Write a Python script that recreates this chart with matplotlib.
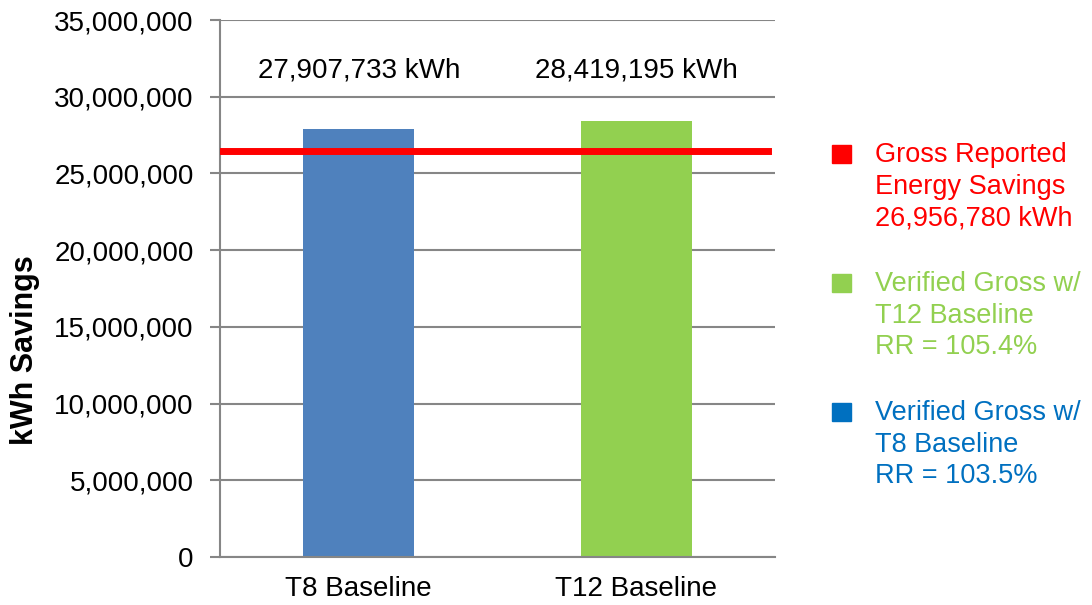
import matplotlib
matplotlib.use("Agg")
import matplotlib.pyplot as plt
from matplotlib.patches import Rectangle
from matplotlib.ticker import FuncFormatter

plt.rcParams['font.family'] = ['Liberation Sans', 'DejaVu Sans']

categories = ["T8 Baseline", "T12 Baseline"]
savings = [27907733, 28419195]
bar_labels = ["27,907,733 kWh", "28,419,195 kWh"]
bar_colors = ["#4F81BD", "#92D050"]
gross_reported_line = 26430000  # drawn level
yticks = list(range(0, 35000001, 5000000))

legend_entries = [
    ("#FF0000", ["Gross Reported", "Energy Savings", "26,956,780 kWh"]),
    ("#92D050", ["Verified Gross w/", "T12 Baseline", "RR = 105.4%"]),
    ("#0070C0", ["Verified Gross w/", "T8 Baseline", "RR = 103.5%"]),
]

W, H = 1092, 605
fig = plt.figure(figsize=(W / 100, H / 100), dpi=100)
ax = fig.add_axes([220 / W, 1 - 557 / H, (775 - 220) / W, (557 - 20) / H])

x = list(range(len(categories)))
ax.bar(x, savings, width=0.4, color=bar_colors, zorder=2)
ax.set_xlim(-0.5, 1.5)
ax.set_ylim(0, 35000000)
ax.axhline(gross_reported_line, xmin=0, xmax=0.987, color="#FF0000", lw=5, zorder=3)

for xi, lab in zip(x, bar_labels):
    ax.text(xi, 31700000, lab, ha="center", va="center", fontsize=20, color="black")

ax.set_yticks(yticks)
ax.yaxis.set_major_formatter(FuncFormatter(lambda v, p: f"{int(v):,}"))
ax.set_xticks(x)
ax.set_xticklabels(categories)
ax.tick_params(axis="y", labelsize=20, length=7, color="#868686", width=1.5, pad=12)
ax.tick_params(axis="x", labelsize=20, length=0, pad=14)
ax.grid(axis="y", color="#868686", lw=1.5, zorder=0)
ax.set_axisbelow(True)
for s in ["top", "right"]:
    ax.spines[s].set_visible(False)
for s in ["left", "bottom"]:
    ax.spines[s].set_color("#868686")
    ax.spines[s].set_linewidth(1.5)

fig.text(25 / W, 1 - 350 / H, "kWh Savings", rotation=90, ha="center", va="center",
         fontsize=22, fontweight="bold")

block_tops = [155, 284, 413]
for (col, lines), y0 in zip(legend_entries, block_tops):
    fig.patches.append(Rectangle((832 / W, 1 - (y0 + 8) / H), 19 / W, 18 / H,
                                 transform=fig.transFigure, color=col))
    for i, line in enumerate(lines):
        fig.text(875 / W, 1 - (y0 + i * 31.7) / H, line, ha="left", va="center",
                 fontsize=19.5, color=col)

fig.savefig("out.png", dpi=100)
